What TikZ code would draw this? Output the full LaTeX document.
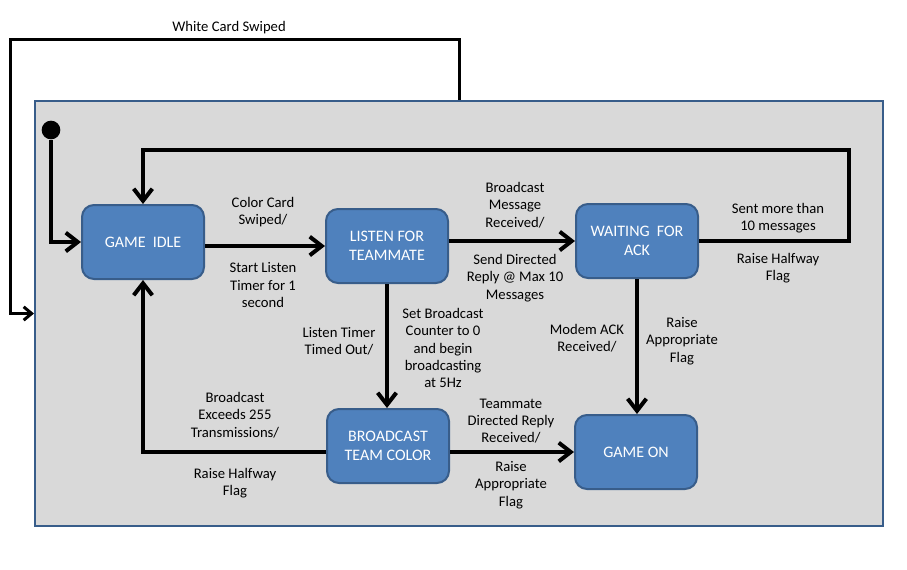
\documentclass[tikz,border=0pt]{standalone}
\usepackage{fontspec}
\setmainfont{Carlito}
\usetikzlibrary{arrows.meta,positioning}
\definecolor{stateblue}{RGB}{79,129,189}
\definecolor{stateedge}{RGB}{56,93,138}
\definecolor{panelgray}{RGB}{217,217,217}
\tikzset{
	state/.style={shape=rectangle, rounded corners=9pt, draw=stateedge, line width=1.5pt, fill=stateblue, text=white, align=center, minimum width=91.5pt, minimum height=55.5pt, font=\fontsize{12}{14.5}\selectfont},
	lbl/.style={align=center, inner sep=0pt, font=\fontsize{11}{13}\selectfont},
	trans/.style={line width=3pt, -{Straight Barb[length=9pt,width=14pt]}},
	outer/.style={line width=2.25pt, -{Straight Barb[length=6pt,width=10pt]}}
}
\begin{document}
\begin{tikzpicture}[x=0.75pt, y=-0.75pt]
			\useasboundingbox (0,0) rectangle (907,569);
			\node[draw=stateedge, line width=1.5pt, fill=panelgray, minimum width=636pt, minimum height=318.75pt, inner sep=0pt] (panel) at (459,313.5) {};
			% states
			\node[state] (idle) at (143,242) {GAME\ \ IDLE};
			\node[state] (listen) at (387,246) {LISTEN FOR\\TEAMMATE};
			\node[state] (wait) at (637,241) {WAITING\ \ FOR\\ACK};
			\node[state] (bcast) at (388,446) {BROADCAST\\TEAM COLOR};
			\node[state] (on) at (636,452) {GAME ON};
			\node[circle, fill=black, minimum size=14pt, inner sep=0pt] (start) at (51,130) {};
			\coordinate (outerTL) at (10,39);
			\coordinate (loopTR) at (849,150);
			% transitions
			\draw[trans] (start) |- (idle.west);
			\draw[trans] (idle.east |- listen.west) -- (listen.west);
			\draw[trans] (listen.east |- wait.west) -- (wait.west);
			\draw[trans] (wait.east) -| (loopTR) -| (idle.north);
			\draw[trans] (listen.south) -- (listen.south |- bcast.north);
			\draw[trans] (wait.south) -- (wait.south |- on.north);
			\draw[trans] (bcast.east |- on.west) -- (on.west);
			\draw[trans] (bcast.west |- on.west) -| (idle.south);
			\draw[outer] (panel.north) |- (outerTL) |- (panel.west);
			% labels
			\node[lbl] (wcs) at (229,28) {White Card Swiped};
			\node[lbl] (ccs) at (263,212) {Color Card\\Swiped/};
			\node[lbl] (slt) at (263,285) {Start Listen\\Timer for 1\\second};
			\node[lbl] (bmr) at (515,205) {Broadcast\\Message\\Received/};
			\node[lbl] (sdr) at (515,278) {Send Directed\\Reply @ Max 10\\Messages};
			\node[lbl] (smt) at (778,218) {Sent more than\\10 messages};
			\node[lbl] (rhf) at (778,268) {Raise Halfway\\Flag};
			\node[lbl] (mar) at (587,338) {Modem ACK\\Received/};
			\node[lbl] (raf) at (682,341) {Raise\\Appropriate\\Flag};
			\node[lbl] (lto) at (339,341) {Listen Timer\\Timed Out/};
			\node[lbl] (sbc) at (443,348) {Set Broadcast\\Counter to 0\\and begin\\broadcasting\\at 5Hz};
			\node[lbl] (bex) at (235,415) {Broadcast\\Exceeds 255\\Transmissions/};
			\node[lbl] (rhf2) at (235,483) {Raise Halfway\\Flag};
			\node[lbl] (tdr) at (511,421) {Teammate\\Directed Reply\\Received/};
			\node[lbl] (raf2) at (511,485) {Raise\\Appropriate\\Flag};
\end{tikzpicture}
\end{document}
